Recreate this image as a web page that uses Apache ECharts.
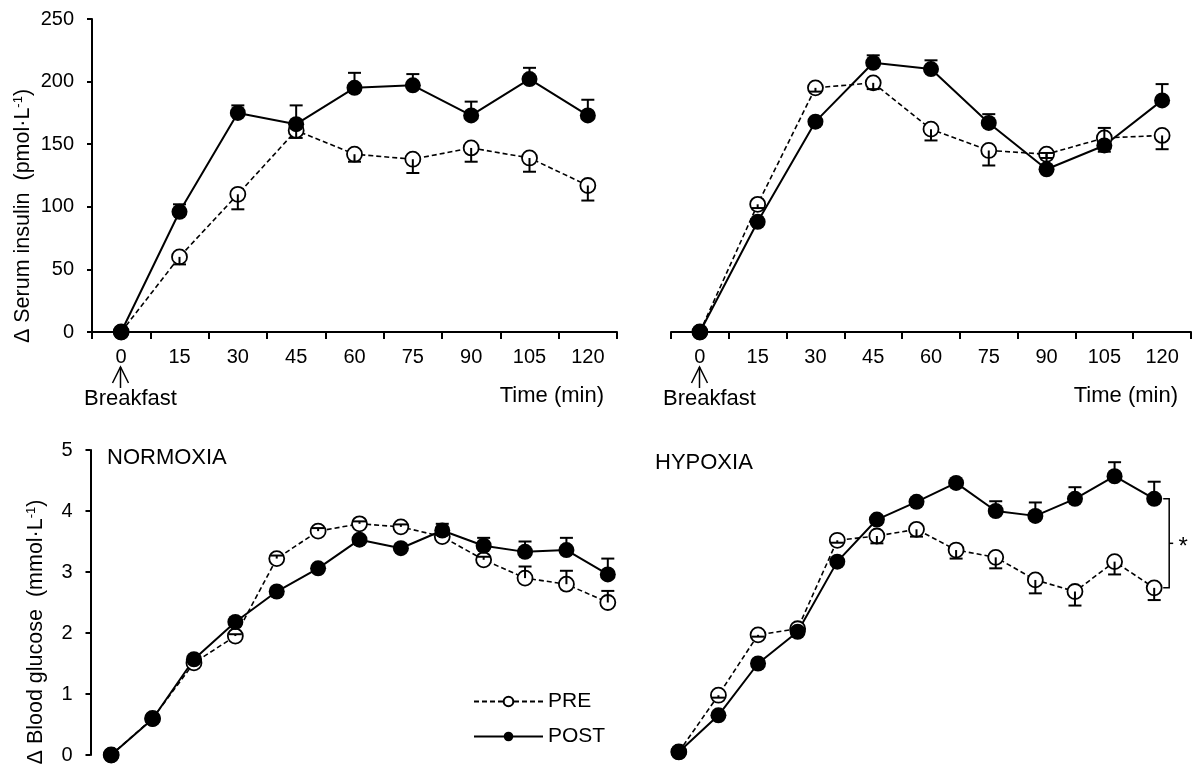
<!DOCTYPE html>
<html><head><meta charset="utf-8">
<script src="https://cdn.jsdelivr.net/npm/echarts@6/dist/echarts.min.js"></script>
<style>html,body{margin:0;padding:0;background:#fff}#c{width:1199px;height:767px}</style>
</head><body><div id="c"></div>
<script>
// ---- data ----
const insTimes = ['0','15','30','45','60','75','90','105','120'];
const gluTimes = ['0','10','20','30','40','50','60','70','80','90','100','110','120'];

const insNormPre     = [0, 60, 110, 161, 142, 138, 147, 139, 117];
const insNormPreErr  = [0, 6, 12, 6, 6, 11, 11, 11, 12];
const insNormPost    = [0, 96, 175, 166, 195, 197, 173, 202, 173];
const insNormPostErr = [0, 6, 6, 15, 12, 9, 11, 9, 12.5];

const insHypPre      = [0, 102, 195, 199, 162, 145, 142, 155, 157];
const insHypPreErr   = [0, 3, 3, 5, 9, 12, 3, 11, 11];
const insHypPost     = [0, 88, 168, 215, 210, 167, 130, 149, 185];
const insHypPostErr  = [0, 2, 2, 6, 7, 7, 13, 14, 13];

const gluNormPre     = [0, 0.6, 1.51, 1.95, 3.22, 3.67, 3.79, 3.74, 3.58, 3.20, 2.90, 2.80, 2.50];
const gluNormPreErr  = [0, 0, 0.03, 0.03, 0.05, 0.05, 0.04, 0.04, 0.03, 0.05, 0.19, 0.22, 0.19];
const gluNormPost    = [0, 0.59, 1.57, 2.18, 2.68, 3.06, 3.53, 3.39, 3.68, 3.43, 3.33, 3.36, 2.96];
const gluNormPostErr = [0, 0.02, 0.03, 0.03, 0.03, 0.03, 0.04, 0.06, 0.11, 0.13, 0.17, 0.2, 0.26];

const gluHypPre      = [0.05, 0.98, 1.97, 2.07, 3.52, 3.59, 3.70, 3.36, 3.24, 2.87, 2.68, 3.17, 2.74];
const gluHypPreErr   = [0, 0.04, 0.03, 0.03, 0.04, 0.12, 0.12, 0.14, 0.18, 0.22, 0.23, 0.21, 0.2];
const gluHypPost     = [0.05, 0.65, 1.50, 2.02, 3.17, 3.86, 4.15, 4.46, 4.00, 3.92, 4.20, 4.57, 4.20];
const gluHypPostErr  = [0, 0, 0, 0, 0, 0.03, 0.03, 0.03, 0.16, 0.22, 0.19, 0.23, 0.28];

const insTicks = [0, 50, 100, 150, 200, 250];
const gluTicks = [0, 1, 2, 3, 4, 5];

// ---- style ----
const FONT = 'Liberation Sans, Arial, sans-serif';
const BLACK = '#000';

const chart = echarts.init(document.getElementById('c'), null, {renderer: 'canvas'});

function xCat(grid, data, show) {
  return {
    type: 'category', gridIndex: grid, data: data, boundaryGap: true,
    axisLine: {show: show, lineStyle: {color: BLACK, width: 2}},
    axisTick: {show: show, length: 7, inside: false, lineStyle: {color: BLACK, width: 2}},
    axisLabel: {show: show, fontSize: 20, color: BLACK, fontFamily: FONT, margin: 15},
    splitLine: {show: false}
  };
}
function yVal(grid, ticks, show) {
  const step = ticks[1] - ticks[0];
  return {
    type: 'value', gridIndex: grid, min: ticks[0], max: ticks[ticks.length - 1], interval: step,
    axisLine: {show: show, lineStyle: {color: BLACK, width: 2}},
    axisTick: {show: show, length: 5, inside: false, lineStyle: {color: BLACK, width: 2}},
    axisLabel: {show: show, fontSize: 20, color: BLACK, fontFamily: FONT, margin: 18},
    splitLine: {show: false}
  };
}
function preSeries(idx, vals) {
  return {
    type: 'line', name: 'PRE', xAxisIndex: idx, yAxisIndex: idx, data: vals,
    symbol: 'circle', symbolSize: 15, z: 2,
    lineStyle: {color: BLACK, width: 1.6, type: [5, 3]},
    itemStyle: {color: '#fff', borderColor: BLACK, borderWidth: 1.8},
    emphasis: {disabled: true}, animation: false
  };
}
function postSeries(idx, vals) {
  return {
    type: 'line', name: 'POST', xAxisIndex: idx, yAxisIndex: idx, data: vals,
    symbol: 'circle', symbolSize: 16, z: 2,
    lineStyle: {color: BLACK, width: 2, type: 'solid'},
    itemStyle: {color: BLACK, borderColor: BLACK, borderWidth: 0},
    emphasis: {disabled: true}, animation: false
  };
}
function errSeries(name, idx, vals, errs, dir) {
  return {
    type: 'custom', name: name, xAxisIndex: idx, yAxisIndex: idx, z: 4,
    data: vals.map((v, i) => [i, v, errs[i]]),
    encode: {x: 0, y: 1},
    animation: false, silent: true,
    renderItem: function (params, api) {
      const i = api.value(0), v = api.value(1), e = api.value(2);
      if (!e) return;
      const p0 = api.coord([i, v]);
      const p1 = api.coord([i, v + dir * e]);
      const hw = 6.5;
      return {type: 'group', children: [
        {type: 'line', shape: {x1: p0[0], y1: p0[1], x2: p1[0], y2: p1[1]}, style: {stroke: BLACK, lineWidth: 2}},
        {type: 'line', shape: {x1: p1[0] - hw, y1: p1[1], x2: p1[0] + hw, y2: p1[1]}, style: {stroke: BLACK, lineWidth: 2}}
      ]};
    }
  };
}

const option = {
  backgroundColor: '#fff',
  animation: false,
  textStyle: {fontFamily: FONT, color: BLACK},
  grid: [
    {left: 92, top: 19, width: 525, height: 313},
    {left: 671, top: 19, width: 520, height: 313},
    {left: 90.5, top: 450, width: 538, height: 305},
    {left: 659, top: 450, width: 515, height: 305}
  ],
  xAxis: [
    xCat(0, insTimes, true),
    xCat(1, insTimes, true),
    xCat(2, gluTimes, false),
    xCat(3, gluTimes, false)
  ],
  yAxis: [
    yVal(0, insTicks, true),
    yVal(1, insTicks, false),
    yVal(2, gluTicks, true),
    yVal(3, gluTicks, false)
  ],
  legend: {
    data: ['PRE', 'POST'], orient: 'vertical', left: 473, top: 691, padding: 0,
    itemWidth: 69, itemHeight: 12, itemGap: 14, selectedMode: false,
    textStyle: {fontSize: 21, color: BLACK, fontFamily: FONT}
  },
  series: [
    preSeries(0, insNormPre), postSeries(0, insNormPost),
    errSeries('PRE err', 0, insNormPre, insNormPreErr, -1), errSeries('POST err', 0, insNormPost, insNormPostErr, 1),
    preSeries(1, insHypPre), postSeries(1, insHypPost),
    errSeries('PRE err', 1, insHypPre, insHypPreErr, -1), errSeries('POST err', 1, insHypPost, insHypPostErr, 1),
    preSeries(2, gluNormPre), postSeries(2, gluNormPost),
    errSeries('PRE err', 2, gluNormPre, gluNormPreErr, 1), errSeries('POST err', 2, gluNormPost, gluNormPostErr, 1),
    preSeries(3, gluHypPre), postSeries(3, gluHypPost),
    errSeries('PRE err', 3, gluHypPre, gluHypPreErr, -1), errSeries('POST err', 3, gluHypPost, gluHypPostErr, 1)
  ]
};
chart.setOption(option);

// ---- annotations positioned from the axes ----
function px(idx, xi, y) { return chart.convertToPixel({xAxisIndex: idx, yAxisIndex: idx}, [xi, y]); }
const g = [];
const supRich = {
  n: {fontSize: 21.5, fontFamily: FONT, color: BLACK, lineHeight: 26},
  s: {fontSize: 13, fontFamily: FONT, color: BLACK, lineHeight: 26, padding: [0, 0, 10, 0]}
};
function text(x, y, t, opts) {
  return Object.assign({type: 'text', x: x, y: y, silent: true,
    style: Object.assign({text: t, fontSize: 22, fontFamily: FONT, fill: BLACK}, opts || {})});
}
// y-axis titles
g.push({type: 'text', x: 23, y: 216, rotation: Math.PI / 2, silent: true,
  style: {text: '{n|Δ Serum insulin  (pmol·L}{s|-1}{n|)}', rich: supRich, align: 'center', verticalAlign: 'middle'}});
g.push({type: 'text', x: 36, y: 632, rotation: Math.PI / 2, silent: true,
  style: {text: '{n|Δ Blood glucose  (mmol·L}{s|-1}{n|)}', rich: supRich, align: 'center', verticalAlign: 'middle'}});

// Breakfast arrows + Time labels for top panels
[0, 1].forEach(function (idx) {
  const p = px(idx, 0, 0);
  const ax = Math.round(p[0]) - 0.5;
  g.push({type: 'polyline', silent: true, shape: {points: [[ax - 8, 383], [ax, 367], [ax + 8, 383]]}, style: {stroke: BLACK, lineWidth: 1.5, fill: null}});
  g.push({type: 'line', silent: true, shape: {x1: ax, y1: 367, x2: ax, y2: 388}, style: {stroke: BLACK, lineWidth: 1.5}});
  g.push(text(ax + 10, 399, 'Breakfast', {align: 'center', verticalAlign: 'middle'}));
  const pe = px(idx, insTimes.length - 1, 0);
  const rightEdge = pe[0] + (pe[0] - px(idx, insTimes.length - 2, 0)[0]) / 2;
  g.push(text(rightEdge - 13, 396, 'Time (min)', {align: 'right', verticalAlign: 'middle'}));
});

// panel titles
g.push(text(107, 458, 'NORMOXIA', {align: 'left', verticalAlign: 'middle'}));
g.push(text(655, 463, 'HYPOXIA', {align: 'left', verticalAlign: 'middle'}));

// significance bracket
(function () {
  const n = gluTimes.length - 1;
  const top = px(3, n, gluHypPost[n]);
  const bot = px(3, n, gluHypPre[n]);
  const bx = top[0] + 15;
  const my = (top[1] + bot[1]) / 2;
  g.push({type: 'polyline', silent: true, shape: {points: [[bx - 6, top[1]], [bx, top[1]], [bx, bot[1]], [bx - 6, bot[1]]]}, style: {stroke: BLACK, lineWidth: 1.5, fill: null}});
  g.push({type: 'line', silent: true, shape: {x1: bx, y1: my, x2: bx + 4, y2: my}, style: {stroke: BLACK, lineWidth: 1.5}});
  g.push(text(bx + 14, my + 4, '*', {align: 'center', verticalAlign: 'middle', fontSize: 24}));
})();

chart.setOption({graphic: {elements: g}});
</script>
</body></html>
